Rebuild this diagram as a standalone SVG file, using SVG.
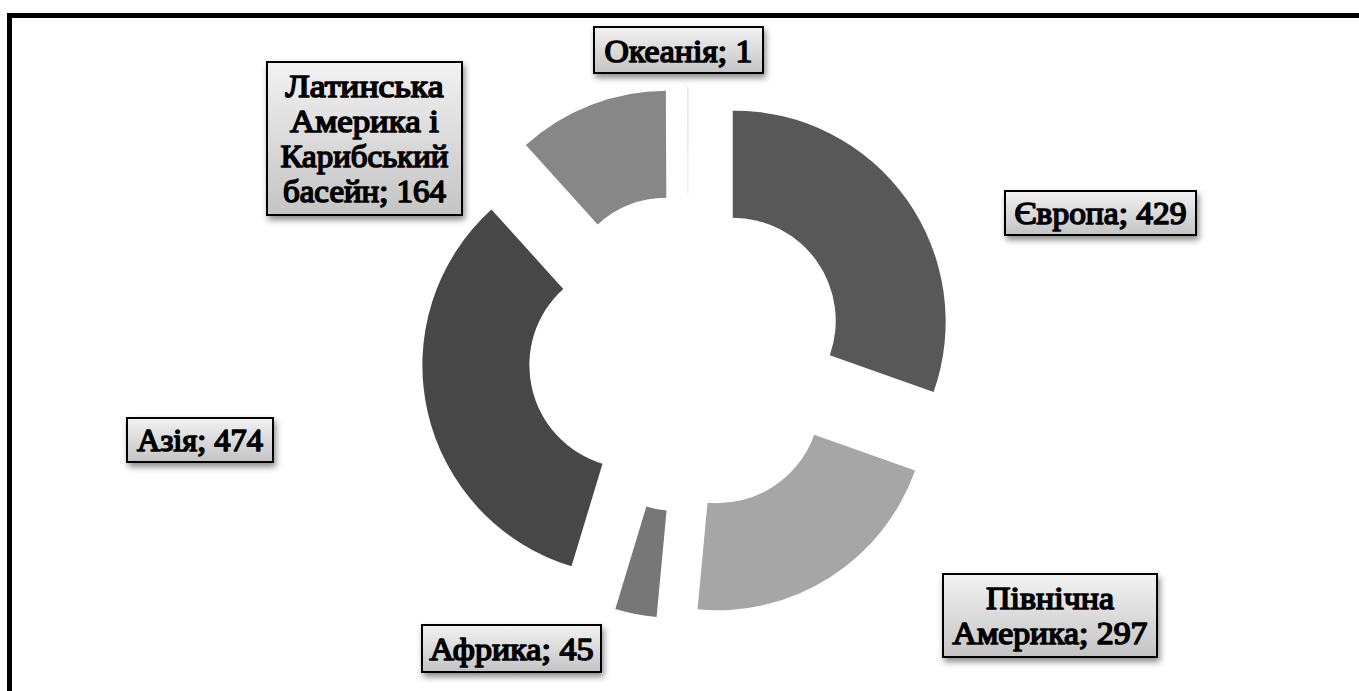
<svg xmlns="http://www.w3.org/2000/svg" width="1359" height="691" viewBox="0 0 1359 691">
  <defs>
    <linearGradient id="lblFill" x1="0" y1="0" x2="0" y2="1">
      <stop offset="0" stop-color="#f2f2f2"/>
      <stop offset="1" stop-color="#c4c4c4"/>
    </linearGradient>
    <filter id="shadow" x="-10%" y="-20%" width="125%" height="150%">
      <feDropShadow dx="2" dy="4" stdDeviation="3" flood-color="#000" flood-opacity="0.45"/>
    </filter>
  </defs>
  <style>
    .frame { fill: #ffffff; stroke: #000000; stroke-width: 5; }
    .box { fill: url(#lblFill); stroke: #000000; stroke-width: 2; filter: url(#shadow); }
    .lbl { font-family: 'Liberation Serif', 'Times New Roman', serif; font-weight: normal; font-size: 32px; fill: #000000; stroke: #000000; stroke-width: 1.6; stroke-linejoin: round; text-anchor: middle; }
  </style>

  <rect x="0" y="0" width="1359" height="691" fill="#ffffff"/>
  <rect class="frame" x="9.5" y="15.5" width="1360" height="700"/>

  <g id="segments">
    <g id="seg-europe">
      <path d="M 732.75 110.71 A 211 211 0 0 1 933.6 392 L 829.82 355.14 A 103 103 0 0 0 732.75 217.71 Z" fill="#585858"/>
    </g>
    <g id="seg-north-america">
      <path d="M 915.06 470.40 A 210 210 0 0 1 697.52 609.28 L 707.51 502.75 A 103 103 0 0 0 814.21 434.63 Z" fill="#a6a6a6"/>
    </g>
    <g id="seg-africa">
      <path d="M 656.59 617.03 A 210 210 0 0 1 615.34 608.93 L 646.36 506.53 A 103 103 0 0 0 666.58 510.50 Z" fill="#777777"/>
    </g>
    <g id="seg-asia">
      <path d="M 571.49 566.23 A 210 210 0 0 1 491.45 209.55 L 563.25 288.88 A 103 103 0 0 0 602.51 463.83 Z" fill="#474747"/>
    </g>
    <g id="seg-latin-america">
      <path d="M 525.85 145.09 A 210 210 0 0 1 665.83 90.79 L 666.30 197.79 A 103 103 0 0 0 597.65 224.42 Z" fill="#878787"/>
    </g>
    <g id="seg-oceania">
      <path d="M 687.4 87 L 688.4 87 L 688.2 194 L 687.7 194 Z" fill="#d6d6d6"/>
    </g>
  </g>

  <g id="connectors"/>

  <g id="label-oceania">
    <rect class="box" x="594" y="27" width="169" height="46"/>
    <text class="lbl" x="678.5" y="61.5" textLength="148" lengthAdjust="spacingAndGlyphs">Океанія; 1</text>
  </g>
  <g id="label-latin-america">
    <rect class="box" x="267" y="62" width="195" height="153"/>
    <text class="lbl" x="364.5" y="96.5" textLength="158" lengthAdjust="spacingAndGlyphs">Латинська</text>
    <text class="lbl" x="364.5" y="131.5" textLength="149" lengthAdjust="spacingAndGlyphs">Америка і</text>
    <text class="lbl" x="364.5" y="166.5" textLength="168" lengthAdjust="spacingAndGlyphs">Карибський</text>
    <text class="lbl" x="364.5" y="201.5" textLength="163" lengthAdjust="spacingAndGlyphs">басейн; 164</text>
  </g>
  <g id="label-europe">
    <rect class="box" x="1005" y="191" width="191" height="44"/>
    <text class="lbl" x="1100.5" y="224" textLength="172" lengthAdjust="spacingAndGlyphs">Європа; 429</text>
  </g>
  <g id="label-asia">
    <rect class="box" x="127" y="418" width="146" height="44"/>
    <text class="lbl" x="200" y="451" textLength="126" lengthAdjust="spacingAndGlyphs">Азія; 474</text>
  </g>
  <g id="label-africa">
    <rect class="box" x="422" y="625" width="179" height="47"/>
    <text class="lbl" x="511.5" y="659.5" textLength="164" lengthAdjust="spacingAndGlyphs">Африка; 45</text>
  </g>
  <g id="label-north-america">
    <rect class="box" x="943" y="574" width="214" height="83"/>
    <text class="lbl" x="1050" y="609" textLength="128" lengthAdjust="spacingAndGlyphs">Північна</text>
    <text class="lbl" x="1050" y="644" textLength="195" lengthAdjust="spacingAndGlyphs">Америка; 297</text>
  </g>
</svg>
